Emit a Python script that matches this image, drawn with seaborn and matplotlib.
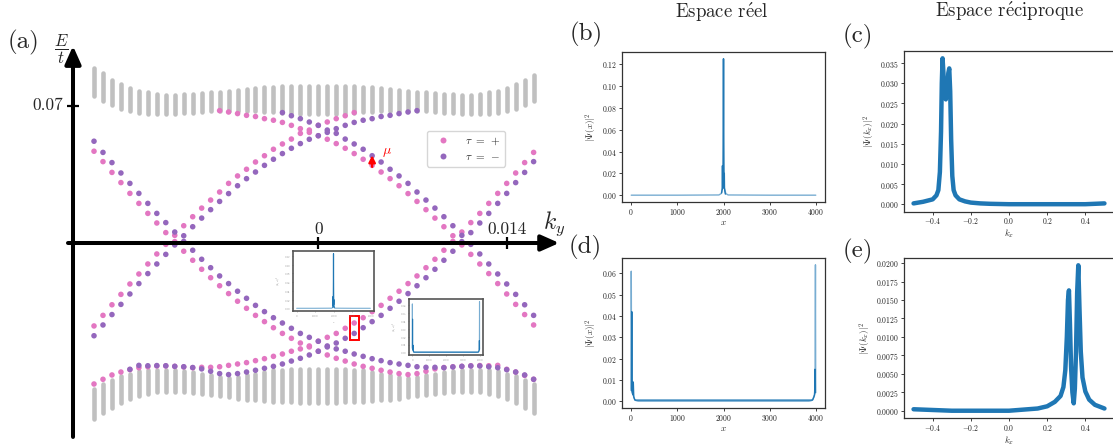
# Structure de bandes (a) et profils des etats (b)-(e).
# Valeurs.

import matplotlib

matplotlib.use('Agg')

import matplotlib.pyplot as plt
from matplotlib.lines import Line2D
from matplotlib.patches import Rectangle
from matplotlib.ticker import MultipleLocator
import seaborn as sns
import numpy as np
import pandas as pd


# ---------------------------------------------------------------
# (a) bandes : ky et energies (E/t, en unites de 1e-3)
# ---------------------------------------------------------------

KY = [
    -0.016667, -0.016, -0.015333, -0.014667, -0.014, -0.013333,
    -0.012667, -0.012, -0.011333, -0.010667, -0.01, -0.009333,
    -0.008667, -0.008, -0.007333, -0.006667, -0.006, -0.005333,
    -0.004667, -0.004, -0.003333, -0.002667, -0.002, -0.001333,
    -0.000667, 0.0, 0.000667, 0.001333, 0.002, 0.002667, 0.003333,
    0.004, 0.004667, 0.005333, 0.006, 0.006667, 0.007333, 0.008,
    0.008667, 0.009333, 0.01, 0.010667, 0.011333, 0.012, 0.012667,
    0.013333, 0.014, 0.014667, 0.015333, 0.016,
]

# tau = +
TAU_PLUS_BANDS = [
    [-71.9, -69.5, -67.3, -65.8, -64.6, -63.6, -63.1, -62.7, -62.7, -62.9,
     -63.2, -63.6, -63.4, -63.4, -63.1, -62.4, -61.7, -61.0, -60.0, -59.0,
     -57.8, -56.6, -55.2, -54.0, -52.5, -50.1, -48.1, -46.1, -43.5, -40.8,
     -38.1, -35.0, -31.8, -28.2, -24.6, -20.7, -16.8, -12.6, -8.3, -3.7,
     0.8, 5.6, 10.4, 15.1, 20.2, 25.3, 30.4, 35.7, 41.0, 46.2],
    [None] * 14 +
    [67.5, 66.8, 66.0, 65.1, 64.5, 63.4, 62.6, 61.5, 60.0, 58.3, 56.4,
     54.7, 52.9, 50.7, 48.3, 45.6, 42.7, 39.6, 36.2, 32.8, 29.2, 25.2,
     21.2, 17.0, 12.7, 8.3, 3.7, -1.0, -5.8, -10.7, -15.6, -20.7, -26.0,
     -31.3, -36.5, -41.8],
    [-42.3, -36.9, -31.5, -26.2, -20.9, -15.8, -10.7, -5.6, -0.7, 3.9,
     8.8, 13.4, 17.8, 21.9, 26.0, 30.4, 34.2, 37.6, 41.3, 44.5, 47.8, 50.5,
     53.0, 55.9, 57.6, 60.0, 61.7, 63.4, 64.9, 66.5] + [None] * 20,
    [46.8, 41.5, 36.0, 30.8, 25.3, 20.2, 15.1, 10.2, 5.3, 0.7, -4.2, -8.8,
     -13.4, -17.7, -21.8, -25.8, -29.7, -33.3, -36.9, -40.1, -43.2, -46.1,
     -48.6, -51.0, -53.0, -55.2, -57.1, -58.8, -60.2, -61.7, -62.9, -63.9,
     -64.9, -65.8, -66.6, -67.1, -66.6, -65.4, -64.2, -63.5, -63.1, -62.9,
     -62.6, -62.5, -62.6, -62.4, -64.4, -65.8, -67.5, -69.5],
]

# tau = -
TAU_MINUS_BANDS = [
    [51.9, 46.2, 41.0, 35.7, 30.4, 25.3, 20.2, 15.1, 10.4, 5.6, 0.8, -3.7,
     -8.3, -12.6, -16.8, -20.7, -24.6, -28.2, -31.8, -35.0, -38.1, -40.8,
     -43.5, -46.1, -48.1, -50.1, -52.5, -54.0, -55.2, -56.6, -57.8, -59.0,
     -60.0, -61.0, -61.7, -62.4, -63.1, -63.4, -63.4, -63.6, -63.2, -62.9,
     -62.7, -62.7, -63.1, -63.6, -64.6, -65.8, -67.3, -69.5],
    [-47.3, -41.8, -36.5, -31.3, -26.0, -20.7, -15.6, -10.7, -5.8, -1.0,
     3.7, 8.3, 12.7, 17.0, 21.2, 25.2, 29.2, 32.8, 36.2, 39.6, 42.7, 45.6,
     48.3, 50.7, 52.9, 54.7, 56.4, 58.3, 60.0, 61.5, 62.6, 63.4, 64.5, 65.1,
     66.0, 66.8, 67.5] + [None] * 13,
    [None] * 21 +
    [66.5, 64.9, 63.4, 61.7, 60.0, 57.6, 55.9, 53.0, 50.5, 47.8, 44.5,
     41.3, 37.6, 34.2, 30.4, 26.0, 21.9, 17.8, 13.4, 8.8, 3.9, -0.7, -5.6,
     -10.7, -15.8, -20.9, -26.2, -31.5, -36.9],
    [None] * 4 +
    [-64.4, -62.4, -62.6, -62.5, -62.6, -62.9, -63.1, -63.5, -64.2, -65.4,
     -66.6, -67.1, -66.6, -65.8, -64.9, -63.9, -62.9, -61.7, -60.2, -58.8,
     -57.1, -55.2, -53.0, -51.0, -48.6, -46.1, -43.2, -40.1, -36.9, -33.3,
     -29.7, -25.8, -21.8, -17.7, -13.4, -8.8, -4.2, 0.7, 5.3, 10.2, 15.1,
     20.2, 25.3, 30.8, 36.0, 41.5],
]

# continuum (barres grises) : bornes par colonne
UPPER_TOP = [
    89.1, 86.5, 83.1, 80.9, 78.9, 77.7, 76.8, 76.0, 75.5, 75.5, 75.8, 76.2,
    76.5, 76.8, 77.2, 77.5, 78.0, 78.5, 78.9, 79.4, 79.7, 80.1, 80.2, 80.2,
    80.2, 80.2, 80.2, 80.2, 80.2, 80.1, 79.7, 79.4, 78.9, 78.5, 78.0, 77.5,
    77.2, 76.8, 76.5, 76.2, 75.8, 75.5, 75.5, 76.0, 76.8, 77.7, 78.9, 80.9,
    83.1, 85.8,
]
UPPER_BOTTOM = [
    75.0, 72.4, 70.2, 68.5, 67.5, 66.5, 66.0, 65.6, 65.6, 65.8, 66.1, 66.5,
    66.8, 67.1, 67.5, 67.5, 67.5, 67.3, 67.1, 67.0, 66.6, 66.5, 66.1, 66.0,
    65.8, 65.8, 65.8, 66.0, 66.1, 66.5, 66.6, 67.0, 67.1, 67.3, 67.5, 67.5,
    67.5, 67.1, 66.8, 66.5, 66.1, 65.8, 65.6, 65.6, 66.0, 66.5, 67.5, 68.5,
    70.2, 72.4,
]
LOWER_TOP = [
    -74.3, -71.7, -69.7, -68.0, -66.6, -65.4, -64.9, -64.6, -64.6, -64.9,
    -65.4, -65.8, -66.6, -67.5, -68.3, -68.7, -68.3, -67.5, -66.6, -65.8,
    -64.9, -64.6, -64.4, -64.4, -64.4, -64.4, -64.4, -64.4, -64.4, -64.6,
    -64.9, -65.8, -66.6, -67.5, -68.3, -68.7, -68.3, -67.5, -66.6, -65.8,
    -65.4, -64.9, -64.6, -64.6, -64.9, -65.4, -66.6, -68.0, -69.7, -71.7,
]
LOWER_BOTTOM = [
    -89.6, -86.5, -84.0, -81.6, -79.7, -78.2, -76.8, -76.2, -76.2, -76.0,
    -76.2, -76.7, -76.8, -77.7, -78.2, -78.5, -79.4, -79.9, -80.2, -80.6,
    -80.9, -81.1, -81.3, -81.4, -81.4, -81.4, -81.4, -81.4, -81.3, -81.1,
    -80.9, -80.6, -80.2, -79.9, -79.4, -78.5, -78.2, -77.7, -76.8, -76.7,
    -76.2, -76.0, -76.2, -76.2, -76.8, -78.2, -79.7, -81.6, -84.0, -86.5,
]

# ---------------------------------------------------------------
# (b), (d) espace reel ; (c), (e) espace reciproque
# ---------------------------------------------------------------

X_B = [0, 1000, 1900, 1950, 1970, 1985, 1995, 2000, 2005, 2015, 2030,
       2050, 2100, 3000, 4000]
PSI_B = [0.0, 0.0, 0.0002, 0.0015, 0.005, 0.007, 0.03, 0.125, 0.03,
         0.007, 0.005, 0.0015, 0.0002, 0.0, 0.0]
X_B_CORE = [1960, 1972, 1977, 1982, 1990, 1996, 2000, 2004, 2010, 2018,
            2022, 2028, 2040]
PSI_B_CORE = [0.002, 0.006, 0.027, 0.006, 0.01, 0.06, 0.125, 0.05, 0.008,
              0.02, 0.006, 0.004, 0.001]

X_D = [0, 1, 8, 20, 40, 70, 100, 150, 1000, 2000, 3000, 3850, 3900, 3940,
       3970, 3985, 3993, 3998, 4000]
PSI_D = [0.005, 0.061, 0.006, 0.004, 0.003, 0.001, 0.0003, 0.0, 0.0, 0.0,
         0.0, 0.0, 0.0002, 0.001, 0.003, 0.006, 0.064, 0.01, 0.004]
X_D_CORE = [5, 12, 18, 25, 35, 45, 55, 80, 3930, 3960, 3975, 3983, 3990]
PSI_D_CORE = [0.005, 0.042, 0.005, 0.004, 0.003, 0.009, 0.002, 0.0005,
              0.0005, 0.002, 0.003, 0.015, 0.004]

KX_C = [-0.5, -0.45, -0.4, -0.38, -0.37, -0.362, -0.356, -0.352, -0.348,
        -0.344, -0.338, -0.331, -0.324, -0.318, -0.313, -0.308, -0.303,
        -0.297, -0.29, -0.28, -0.26, -0.23, -0.2, -0.15, -0.1, 0.0, 0.1,
        0.2, 0.3, 0.4, 0.5]
PSI_C = [0.0002, 0.0006, 0.0012, 0.0022, 0.0035, 0.008, 0.018, 0.03,
         0.0362, 0.033, 0.0275, 0.026, 0.028, 0.0325, 0.0337, 0.028, 0.016,
         0.007, 0.0035, 0.0022, 0.0012, 0.0007, 0.0004, 0.0002, 0.0001, 0.0,
         0.0, 0.0, 0.0, 0.0, 0.0002]

KX_E = [-0.5, -0.4, -0.3, -0.2, -0.1, 0.0, 0.1, 0.15, 0.2, 0.24, 0.27,
        0.285, 0.295, 0.303, 0.309, 0.314, 0.319, 0.325, 0.332, 0.339,
        0.345, 0.351, 0.357, 0.363, 0.369, 0.376, 0.385, 0.4, 0.42, 0.45,
        0.5]
PSI_E = [0.0002, 0.0001, 0.0, 0.0, 0.0, 0.0, 0.0002, 0.0003, 0.0006,
         0.0012, 0.002, 0.0032, 0.0055, 0.01, 0.015, 0.0163, 0.012, 0.006,
         0.0025, 0.001, 0.003, 0.008, 0.016, 0.0197, 0.014, 0.008, 0.0045,
         0.0026, 0.0015, 0.0008, 0.0003]


W, H = 1113, 447

PINK = '#e377c2'
PURPLE = '#9467bd'
GRAY = '#c0c0c0'
BLUE = '#1f77b4'


def px_axes(fig, left, top, right, bottom):
    # Axes placee en pixels de la figure finale.

    return fig.add_axes([
        left / W,
        1 - bottom / H,
        (right - left) / W,
        (bottom - top) / H,
    ])


def band_frame():
    # Table longue (ky, E, tau) pour seaborn.

    rows = []

    for tau, bands in (('+', TAU_PLUS_BANDS), ('-', TAU_MINUS_BANDS)):

        for band in bands:

            for k, e in zip(KY, band):

                if e is not None:
                    rows.append((k, e * 1e-3, tau))

    return pd.DataFrame(rows, columns=['ky', 'E', 'tau'])


def style_profile(ax, xlabel, ylabel, small=False, x_step=None):
    # Style commun des petits panneaux.

    if x_step is not None:
        ax.xaxis.set_major_locator(MultipleLocator(x_step))

    if small:
        size, col = 2, '#8a8a8a'
        ax.tick_params(labelsize=size, length=1, width=0.4, pad=0.5,
                       colors=col)
        for s in ax.spines.values():
            s.set_color('#555555')
            s.set_linewidth(1.2)
        ax.set_xlabel(xlabel, fontsize=size, color=col, labelpad=0.5)
        ax.set_ylabel(ylabel, fontsize=size, color=col, labelpad=0.5)
        return

    ax.tick_params(labelsize=5.5, length=2, width=0.6, pad=1.5,
                   colors='#222222')

    for s in ax.spines.values():
        s.set_color('#333333')
        s.set_linewidth(0.9)

    ax.set_xlabel(xlabel, fontsize=6.5, labelpad=1)
    ax.set_ylabel(ylabel, fontsize=6.5, labelpad=2)


def plot_real(ax, x, y, x_core, y_core, lw=1.0):

    sns.lineplot(x=x, y=y, color=BLUE, alpha=0.6, lw=lw, ax=ax)
    sns.lineplot(x=x_core, y=y_core, color=BLUE, lw=lw, ax=ax)


def plot_recip(ax, x, y):

    sns.lineplot(x=x, y=y, color=BLUE, lw=3.2, solid_capstyle='round',
                 ax=ax)


sns.set_style('ticks')

plt.rcParams['font.family'] = ['cmr10', 'DejaVu Serif']
plt.rcParams['mathtext.fontset'] = 'cm'
plt.rcParams['axes.formatter.use_mathtext'] = True

fig = plt.figure(figsize=(W / 100, H / 100), dpi=100)

# ---------------------------------------------------------------
# panneau (a)
# ---------------------------------------------------------------

ax = px_axes(fig, 50, 36, 566, 442)

ky = np.array(KY)

for lo, hi in ((UPPER_BOTTOM, UPPER_TOP), (LOWER_BOTTOM, LOWER_TOP)):

    bars = ax.vlines(
        ky,
        np.array(lo) * 1e-3,
        np.array(hi) * 1e-3,
        colors=GRAY,
        lw=3.3,
        zorder=1,
    )
    bars.set_capstyle('round')

sns.scatterplot(
    data=band_frame(),
    x='ky',
    y='E',
    hue='tau',
    hue_order=['+', '-'],
    palette={'+': PINK, '-': PURPLE},
    s=16,
    linewidth=0,
    legend=False,
    zorder=3,
    ax=ax,
)

ax.set_xlim(-0.019937, 0.018406)
ax.set_ylim(-0.101479, 0.105558)
ax.axis('off')

arrow_kw = dict(
    arrowstyle='-|>,head_length=0.9,head_width=0.4',
    lw=2.9,
    color='black',
    shrinkA=0,
    shrinkB=0,
    mutation_scale=12,
)

ax.annotate('', xy=(0.01790, 0), xytext=(-0.0186, 0),
            arrowprops=arrow_kw, annotation_clip=False)
ax.annotate('', xy=(-0.018228, 0.1005), xytext=(-0.018228, -0.0989),
            arrowprops=arrow_kw, annotation_clip=False)

for k in (0.0, 0.014):
    ax.plot([k, k], [-0.0029, 0.0029], color='black', lw=1.6,
            solid_capstyle='butt')

ax.plot([-0.0187, -0.0178], [0.07, 0.07], color='black', lw=1.6,
        solid_capstyle='butt')

ax.text(0.0, 0.0072, '0', ha='center', va='center', fontsize=12.5)
ax.text(0.01405, 0.0072, '0.014', ha='center', va='center', fontsize=12.5)
ax.text(-0.01897, 0.07, '0.07', ha='right', va='center', fontsize=12.5)

ax.text(-0.01912, 0.0985, r'$\dfrac{E}{t}$', ha='center', va='center',
        fontsize=12)
ax.text(0.01752, 0.0096, r'$k_y$', ha='center', va='center', fontsize=17)

# mu et etat selectionne
ax.annotate(
    '',
    xy=(0.004, 0.0447),
    xytext=(0.004, 0.0388),
    arrowprops=dict(arrowstyle='-|>,head_length=0.5,head_width=0.25',
                    lw=1.6, color='red', shrinkA=0, shrinkB=0,
                    mutation_scale=8),
)
ax.text(0.0047, 0.0462, r'$\mu$', color='red', fontsize=10,
        ha='left', va='center')

ax.add_patch(Rectangle(
    (0.002356, -0.04931),
    0.000669,
    0.01193,
    fill=False,
    ec='red',
    lw=1.4,
    zorder=4,
))

legend_handles = [
    Line2D([], [], ls='', marker='o', ms=4.3, mec='none', color=PINK,
           label=r'$\tau\ =\ +$'),
    Line2D([], [], ls='', marker='o', ms=4.3, mec='none', color=PURPLE,
           label=r'$\tau\ =\ -$'),
]

ax.legend(
    handles=legend_handles,
    loc='upper left',
    bbox_to_anchor=(427 / W, 1 - 131 / H),
    bbox_transform=fig.transFigure,
    borderaxespad=0,
    fontsize=8,
    handletextpad=1.0,
    frameon=True,
)

# encarts
ins1 = px_axes(fig, 293, 251, 374, 311)
plot_real(ins1, X_B, PSI_B, X_B_CORE, PSI_B_CORE, lw=0.8)
style_profile(ins1, r'$x$', r'$|\Psi(x)|^2$', small=True, x_step=1000)

ins2 = px_axes(fig, 409, 299, 483, 355)
plot_real(ins2, X_D, PSI_D, X_D_CORE, PSI_D_CORE, lw=0.8)
style_profile(ins2, r'$x$', r'$|\Psi(x)|^2$', small=True, x_step=1000)

# ---------------------------------------------------------------
# panneaux (b) - (e)
# ---------------------------------------------------------------

ax_b = px_axes(fig, 622, 52, 825, 202)
plot_real(ax_b, X_B, PSI_B, X_B_CORE, PSI_B_CORE)
style_profile(ax_b, r'$x$', r'$|\Psi(x)|^2$', x_step=1000)

ax_d = px_axes(fig, 622, 258, 825, 408)
plot_real(ax_d, X_D, PSI_D, X_D_CORE, PSI_D_CORE)
style_profile(ax_d, r'$x$', r'$|\Psi(x)|^2$', x_step=1000)

ax_c = px_axes(fig, 904, 51, 1114, 211.5)
plot_recip(ax_c, KX_C, PSI_C)
style_profile(ax_c, r'$k_x$', r'$|\Psi(k_x)|^2$', x_step=0.2)

ax_e = px_axes(fig, 904, 258, 1114, 418)
plot_recip(ax_e, KX_E, PSI_E)
style_profile(ax_e, r'$k_x$', r'$|\Psi(k_x)|^2$', x_step=0.2)

# titres et lettres
fig.text(722 / W, 1 - 12 / H, r'Espace r$\mathrm{\acute{e}}$el',
         ha='center', va='center', fontsize=13.5)
fig.text(1010 / W, 1 - 11 / H, r'Espace r$\mathrm{\acute{e}}$ciproque',
         ha='center', va='center', fontsize=13.5)

for label, x, y in (('(a)', 24, 42), ('(b)', 586, 34), ('(c)', 858, 36),
                    ('(d)', 585, 247), ('(e)', 858, 251)):
    fig.text(x / W, 1 - y / H, label, ha='center', va='center', fontsize=18)

fig.savefig('out.png', dpi=100)
plt.close(fig)
